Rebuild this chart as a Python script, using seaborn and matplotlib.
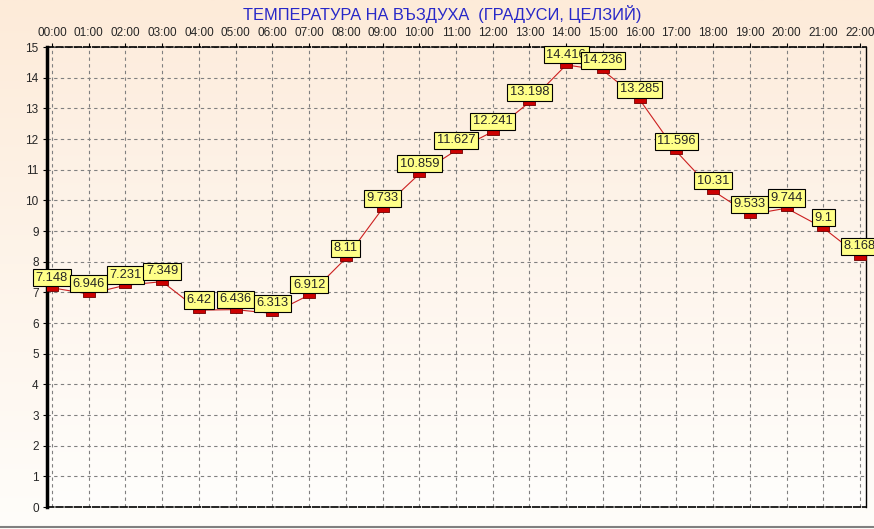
import numpy as np
import matplotlib.pyplot as plt
import seaborn as sns
from matplotlib.path import Path
from matplotlib.lines import Line2D
import pandas as pd

sns.set_style("white")
plt.rcParams["font.family"] = ["Liberation Sans", "DejaVu Sans"]

# --- data ---
hours = ["00:00", "01:00", "02:00", "03:00", "04:00", "05:00", "06:00", "07:00",
         "08:00", "09:00", "10:00", "11:00", "12:00", "13:00", "14:00", "15:00",
         "16:00", "17:00", "18:00", "19:00", "20:00", "21:00", "22:00"]
temps = [7.148, 6.946, 7.231, 7.349, 6.42, 6.436, 6.313, 6.912, 8.11, 9.733,
         10.859, 11.627, 12.241, 13.198, 14.416, 14.236, 13.285, 11.596, 10.31,
         9.533, 9.744, 9.1, 8.168]
labels = ["7.148", "6.946", "7.231", "7.349", "6.42", "6.436", "6.313", "6.912",
          "8.11", "9.733", "10.859", "11.627", "12.241", "13.198", "14.416",
          "14.236", "13.285", "11.596", "10.31", "9.533", "9.744", "9.1", "8.168"]
y_ticks = list(range(0, 16))

df = pd.DataFrame({"pos": range(len(hours)), "temp": temps})

W, H = 874, 529
fig = plt.figure(figsize=(W / 100, H / 100), dpi=100)

# figure background gradient (peach at top -> nearly white at bottom)
bg = fig.add_axes([0, 0, 1, 1], zorder=-10)
grad = np.linspace(0, 1, 256).reshape(-1, 1)
top_c = np.array([253, 235, 217]) / 255
bot_c = np.array([255, 253, 250]) / 255
img = top_c * (1 - grad[..., None]) + bot_c * grad[..., None]
bg.imshow(img, aspect="auto", extent=[0, 1, 0, 1])
bg.set_axis_off()

ax = fig.add_axes([47 / W, 1 - 507 / H, (866 - 47) / W, (507 - 47) / H])
ax.patch.set_alpha(0)
top_p = np.array([253, 237, 222]) / 255
bot_p = np.array([255, 254, 252]) / 255
img2 = top_p * (1 - grad[..., None]) + bot_p * grad[..., None]
ax.imshow(img2, aspect="auto", extent=[0, 1, 0, 1], transform=ax.transAxes, zorder=0)

# marker: wide flat rectangle
rect = Path([(-1, -0.5), (1, -0.5), (1, 0.5), (-1, 0.5), (-1, -0.5)],
            [Path.MOVETO, Path.LINETO, Path.LINETO, Path.LINETO, Path.CLOSEPOLY])

sns.lineplot(data=df, x="pos", y="temp", ax=ax, color="#CC2020", linewidth=0.8,
             marker=rect, markersize=8.5, markerfacecolor="#CC0000",
             markeredgecolor="#700000", markeredgewidth=0.6, zorder=3)

for x, y, t in zip(df["pos"], df["temp"], labels):
    ax.annotate(t, (x, y), xytext=(0, 3), textcoords="offset points",
                ha="center", va="bottom", fontsize=9.3, zorder=5,
                bbox=dict(boxstyle="square,pad=0.2", fc="#FFFF88", ec="black", lw=0.8))

ax.set_xlim(-5 / 36.73, 22 + 6 / 36.73)
ax.set_ylim(0, 15)
ax.set_xticks(range(len(hours)))
ax.set_xticklabels(hours)
ax.set_yticks(y_ticks)
ax.xaxis.tick_top()
ax.tick_params(axis="x", top=True, bottom=False, labelsize=8.5, length=3, pad=3, color="black")
ax.tick_params(axis="y", left=True, labelsize=8.5, length=3, pad=3, color="black")
ax.set_xlabel("")
ax.set_ylabel("")

ax.grid(True, color="#808080", linestyle=(0, (3, 3)), linewidth=0.8)
ax.set_axisbelow(True)

ax.spines["left"].set_linewidth(2.5)
ax.spines["left"].set_color("black")
ax.spines["right"].set_linewidth(1.0)
ax.spines["right"].set_color("black")
for s in ["top", "bottom"]:
    ax.spines[s].set_linestyle((0, (4, 1.5)))
    ax.spines[s].set_linewidth(1.2)
    ax.spines[s].set_color("black")

fig.text(442 / W, 1 - 14 / H, "ТЕМПЕРАТУРА НА ВЪЗДУХА  (ГРАДУСИ, ЦЕЛЗИЙ)",
         ha="center", va="center", fontsize=11.8, color="#2828C8")

fig.add_artist(Line2D([0, 1], [1 - 527 / H, 1 - 527 / H], color="#808080", lw=1.5))

plt.savefig("out.png", dpi=100)
